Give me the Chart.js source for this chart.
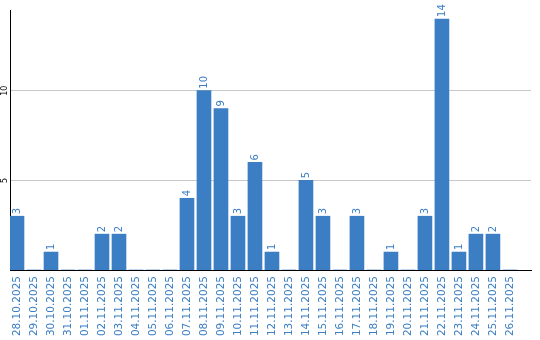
<!DOCTYPE html>
<html>
<head>
<meta charset="utf-8">
<script src="https://cdn.jsdelivr.net/npm/chart.js@4/dist/chart.umd.min.js"></script>
<style>
  body { margin: 0; background: #fff; }
</style>
</head>
<body>
<canvas id="chart" width="540" height="340"></canvas>
<script>
const dates = [
  '28.10.2025', '29.10.2025', '30.10.2025', '31.10.2025', '01.11.2025',
  '02.11.2025', '03.11.2025', '04.11.2025', '05.11.2025', '06.11.2025',
  '07.11.2025', '08.11.2025', '09.11.2025', '10.11.2025', '11.11.2025',
  '12.11.2025', '13.11.2025', '14.11.2025', '15.11.2025', '16.11.2025',
  '17.11.2025', '18.11.2025', '19.11.2025', '20.11.2025', '21.11.2025',
  '22.11.2025', '23.11.2025', '24.11.2025', '25.11.2025', '26.11.2025'
];
const counts = [3, 0, 1, 0, 0, 2, 2, 0, 0, 0, 4, 10, 9, 3, 6, 1, 0, 5, 3, 0, 3, 0, 1, 0, 3, 14, 1, 2, 2, 0];
const yTicks = [5, 10];

const blue = '#3b7ec4';

// value labels above each bar, rotated like the axis labels
const barValues = {
    id: 'barValues',
    afterDatasetsDraw(chart) {
        const ctx = chart.ctx;
        const meta = chart.getDatasetMeta(0);
        ctx.save();
        ctx.fillStyle = blue;
        ctx.font = '10px "DejaVu Sans"';
        ctx.textAlign = 'left';
        ctx.textBaseline = 'middle';
        meta.data.forEach(function(bar, i) {
            if (!counts[i]) return;
            ctx.save();
            ctx.translate(bar.x, bar.y - 2);
            ctx.rotate(-Math.PI / 2);
            ctx.fillText(String(counts[i]), 0, 0);
            ctx.restore();
        });
        ctx.restore();
    }
};

new Chart(document.getElementById('chart'), {
    type: 'bar',
    data: {
        datasets: [{
            data: counts.map((v, i) => ({ x: i, y: v })),
            backgroundColor: blue,
            barThickness: 14
        }]
    },
    options: {
        responsive: false,
        animation: false,
        events: [],
        layout: { padding: { top: 10, right: 9, left: 0, bottom: 0 } },
        plugins: { legend: { display: false }, tooltip: { enabled: false } },
        scales: {
            x: {
                type: 'linear',
                offset: false,
                min: -7 / 17,
                max: 30.24,
                afterBuildTicks: function(scale) {
                    scale.ticks = dates.map((_, i) => ({ value: i }));
                },
                afterFit: function(scale) { scale.height = 70; },
                grid: { display: false, drawTicks: false, offset: false },
                border: { color: '#000', width: 1 },
                ticks: {
                    minRotation: 90,
                    maxRotation: 90,
                    autoSkip: false,
                    padding: 6,
                    color: blue,
                    font: { family: 'DejaVu Sans', size: 10.5 },
                    callback: (v) => dates[v]
                }
            },
            y: {
                min: 0,
                max: 14.5,
                afterBuildTicks: function(scale) {
                    scale.ticks = yTicks.map(v => ({ value: v }));
                },
                afterFit: function(scale) { scale.width = 10; },
                grid: { color: '#c8c8c8', drawTicks: false },
                border: { color: '#000', width: 1 },
                ticks: {
                    minRotation: 90,
                    maxRotation: 90,
                    crossAlign: 'center',
                    padding: 0,
                    color: '#000',
                    font: { family: 'DejaVu Sans', size: 8 }
                }
            }
        }
    },
    plugins: [barValues]
});
</script>
</body>
</html>
